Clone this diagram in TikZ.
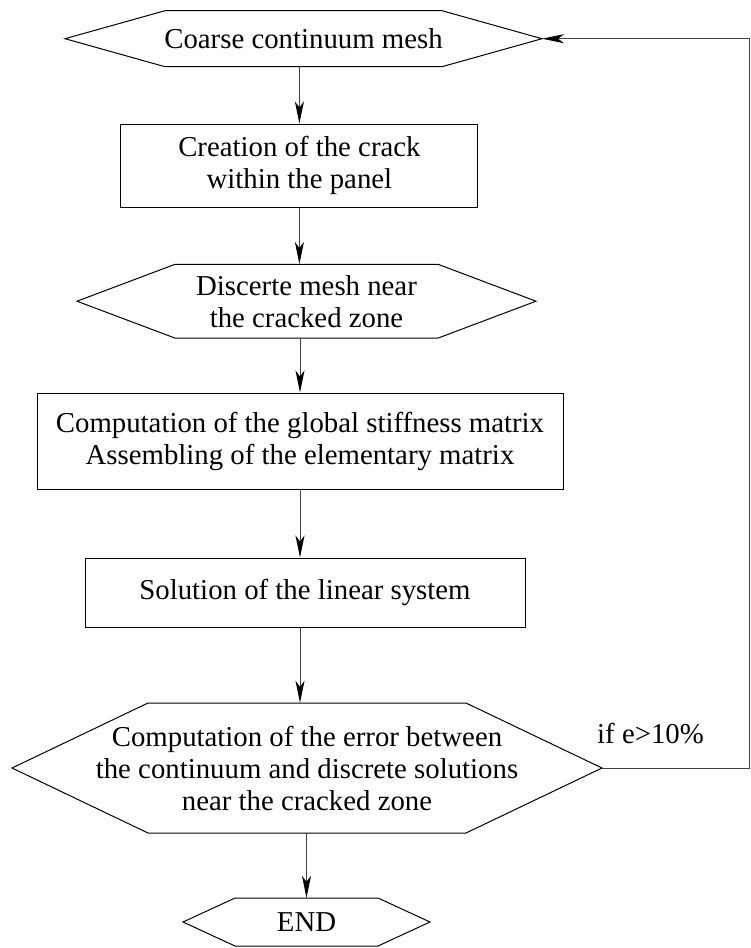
\documentclass[tikz,border=0pt]{standalone}
\usepackage{fontspec}
\setmainfont{Liberation Serif}
\usetikzlibrary{arrows.meta,calc}
\tikzset{
  shapeline/.style={draw=black,line width=1pt,line join=miter},
  conn/.style={draw=black!75,line width=1pt,-{Stealth[length=22pt,width=9pt,inset=6pt,color=black]}},
  txt/.style={inner sep=0pt,align=center,font=\fontsize{28.8}{32}\selectfont},
  boxnode/.style={txt,draw=black,line width=1pt},
}
% #1 node name, #2 half width of flat top, #3 half height, #4 point depth
\newcommand{\drawhex}[4]{%
  \draw[shapeline] ($(#1.center)+(-#2,-#3)$) -- ($(#1.center)+(#2,-#3)$)
    -- ($(#1.center)+(#2+#4,0)$) coordinate (#1-r)
    -- ($(#1.center)+(#2,#3)$) -- ($(#1.center)+(-#2,#3)$)
    -- ($(#1.center)+(-#2-#4,0)$) coordinate (#1-l) -- cycle;}
\begin{document}
\begin{tikzpicture}[x=1pt,y=-1pt]
\useasboundingbox (0,0) rectangle (751,948);
% nodes
\node[txt,minimum height=56pt] (n1) at (303.5,38.7) {Coarse continuum mesh};
\node[boxnode,minimum width=357pt,minimum height=83pt] (n2) at (299.4,165.5) {Creation of the crack\\within the panel};
\node[txt,minimum height=74pt] (n3) at (306.5,301.2) {Discerte mesh near\\the cracked zone};
\node[boxnode,minimum width=526pt,minimum height=96pt] (n4) at (300,441) {Computation of the global stiffness matrix\\Assembling of the elementary matrix};
\node[boxnode,minimum width=440pt,minimum height=69pt] (n5) at (305,592.5) {Solution of the linear system};
\node[txt,minimum height=130pt] (n6) at (307,768) {Computation of the error between\\the continuum and discrete solutions\\near the cracked zone};
\node[txt,minimum height=48pt] (n7) at (306.5,922) {END};
\node[txt,anchor=base west] (lbl) at (597,743) {if e>10\%};
% hexagon outlines
\drawhex{n1}{138.5}{28}{100}
\drawhex{n3}{131.5}{36.9}{98}
\drawhex{n6}{159}{65}{136}
\drawhex{n7}{71.5}{24}{52}
% connectors
\coordinate (fb) at (749.5,0);
\draw[conn] (n2.north |- n1.south) -- (n2.north);
\draw[conn] (n2.south) -- (n2.south |- n3.north);
\draw[conn] (n4.north |- n3.south) -- (n4.north);
\draw[conn] (n4.south) -- (n4.south |- n5.north);
\draw[conn] (n4.south |- n5.south) -- (n4.south |- n6.north);
\draw[conn] (n7.north |- n6.south) -- (n7.north);
\draw[conn] (n6-r) -- (n6-r -| fb) -- (n1-r -| fb) -- (n1-r);
\end{tikzpicture}
\end{document}
